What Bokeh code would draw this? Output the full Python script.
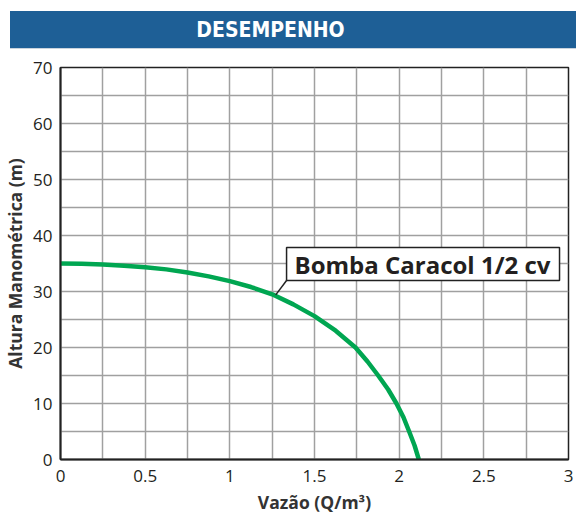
from bokeh.plotting import figure
from bokeh.models import FixedTicker, Div
from bokeh.layouts import column
from bokeh.core.properties import value
from bokeh.embed import file_html
from bokeh.resources import INLINE

# ---- data ----
flow = [0, 0.125, 0.25, 0.375, 0.5, 0.625, 0.75, 0.875, 1.0, 1.125, 1.25, 1.375, 1.5, 1.625,
        1.742, 1.813, 1.876, 1.935, 1.984, 2.026, 2.059, 2.091, 2.116]
head = [35, 34.95, 34.8, 34.6, 34.35, 33.95, 33.4, 32.7, 31.85, 30.8, 29.5, 27.7, 25.6, 23.0,
        20, 17.5, 15, 12.5, 10, 7.5, 5, 2.5, 0]
series_name = "Bomba Caracol 1/2 cv"

x_ticks = [0, 0.5, 1, 1.5, 2, 2.5, 3]
x_tick_labels = ["0", "0.5", "1", "1.5", "2", "2.5", "3"]
y_ticks = [0, 10, 20, 30, 40, 50, 60, 70]
x_grid = [0, 0.25, 0.5, 0.75, 1, 1.25, 1.5, 1.75, 2, 2.25, 2.5, 2.75, 3]
y_grid = [0, 5, 10, 15, 20, 25, 30, 35, 40, 45, 50, 55, 60, 65, 70]

title_text = "DESEMPENHO"
x_label = "Vazão (Q/m³)"
y_label = "Altura Manométrica (m)"

BLUE = "#1e5f96"
GREEN = "#00a651"
TEXT = "#231f20"
GRID = "#a0a0a0"
FONT = "Open Sans"

# ---- title bar ----
bar_style = (
    f"background-color:{BLUE};color:white;width:566px;height:38px;line-height:38px;"
    "box-sizing:border-box;padding-right:45px;text-align:center;"
    "font-family:'DejaVu Sans Condensed','Liberation Sans Narrow',Roboto,sans-serif;"
    "font-stretch:condensed;font-weight:bold;font-size:21px;"
    "border-bottom:1px solid #c9d3dd;"
)
t = Div(text=f"<div style=\"{bar_style}\">{title_text}</div>", width=566, height=38)
t.margin = (11, 0, 0, 10)

# ---- chart ----
p = figure(frame_width=508, frame_height=392, x_range=(0, 3), y_range=(0, 70),
           toolbar_location=None, output_backend="svg",
           min_border_left=59, min_border_right=9, min_border_top=18, min_border_bottom=0)
p.background_fill_color = "white"
p.border_fill_color = "white"
p.outline_line_color = "#222222"
p.outline_line_width = 1.5

p.xaxis.ticker = FixedTicker(ticks=x_ticks)
p.xaxis.major_label_overrides = {tk: lb for tk, lb in zip(x_ticks, x_tick_labels)}
p.yaxis.ticker = FixedTicker(ticks=y_ticks)
p.xgrid.ticker = FixedTicker(ticks=x_grid)
p.ygrid.ticker = FixedTicker(ticks=y_grid)
for g in (p.xgrid, p.ygrid):
    g.grid_line_color = GRID
    g.grid_line_width = 1.5

for ax in (p.xaxis, p.yaxis):
    ax.axis_line_color = "#222222"
    ax.axis_line_width = 2
    ax.major_tick_line_color = None
    ax.minor_tick_line_color = None
    ax.major_label_text_font = FONT
    ax.major_label_text_font_size = "17px"
    ax.major_label_text_color = TEXT
    ax.axis_label_text_font = FONT
    ax.axis_label_text_font_size = "17.5px"
    ax.axis_label_text_font_style = "bold"
    ax.axis_label_text_color = "#333333"

p.xaxis.axis_label = x_label
p.yaxis.axis_label = y_label
p.xaxis.major_label_standoff = 4
p.yaxis.major_label_standoff = 2
p.xaxis.axis_label_standoff = 5
p.yaxis.axis_label_standoff = 3

# curve
p.line(flow, head, line_color=GREEN, line_width=4.5)

# callout
box_l, box_r, box_b, box_t = 1.335, 2.947, 31.96, 37.86
p.segment(x0=[box_l], y0=[box_b], x1=[1.271], y1=[29.4], line_color="#222222", line_width=1.5)
p.quad(left=[box_l], right=[box_r], bottom=[box_b], top=[box_t],
       fill_color="white", line_color="#222222", line_width=1.5)
p.text(x=[1.382], y=[(box_b + box_t) / 2], text=[series_name], text_align="left",
       text_baseline="middle", text_color=TEXT, text_font=value(FONT),
       text_font_style="bold", text_font_size="24px")

layout = column(t, p, spacing=0)
open("out.html", "w").write(file_html(layout, INLINE))
